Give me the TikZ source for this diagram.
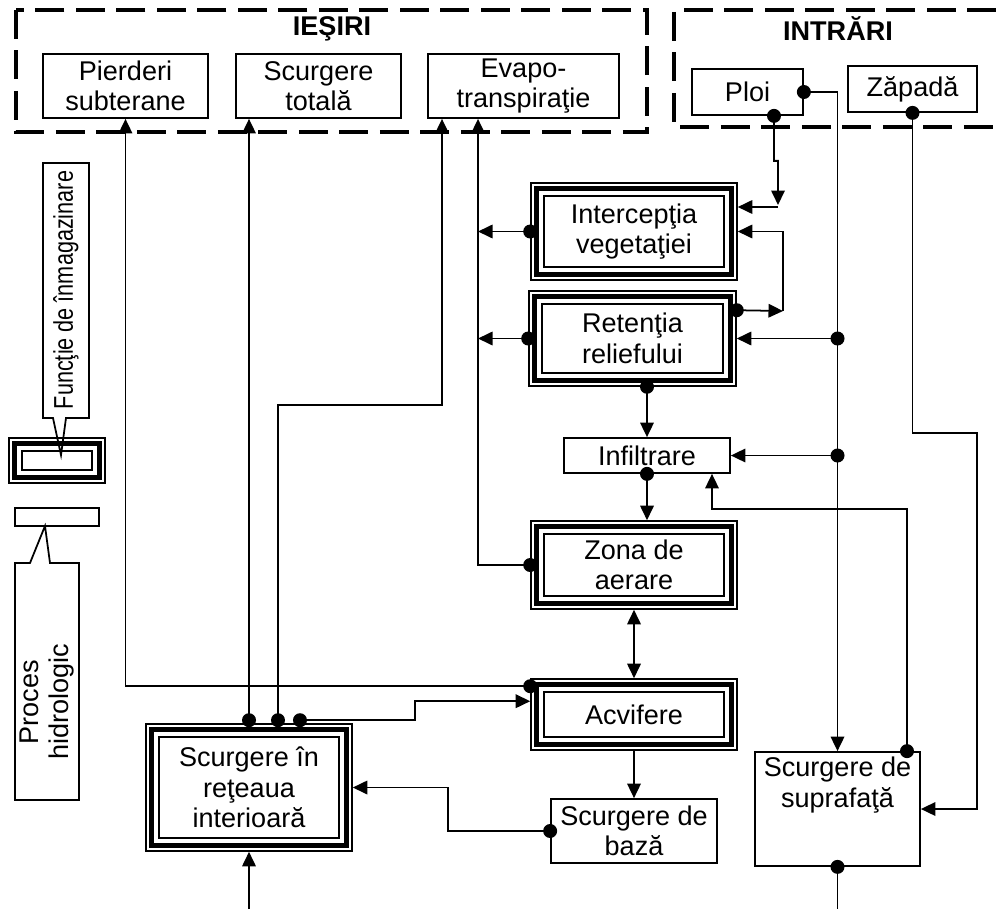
\documentclass[tikz,border=0pt]{standalone}
\usepackage{fontspec}
\usepackage{graphicx}
\setmainfont{Liberation Sans}
\usetikzlibrary{arrows.meta}
\newcommand\diagfont{\fontsize{15.4}{17.4}\selectfont}
\tikzset{
  proc/.style={draw, line width=1pt, align=center, inner sep=0pt},
  store/.style={draw, line width=0.9pt, align=center, inner sep=0pt},
  arr/.style={line width=1pt, -{Triangle[length=0.29cm,width=0.27cm]}},
  arrb/.style={line width=1pt, {Triangle[length=0.29cm,width=0.27cm]}-{Triangle[length=0.29cm,width=0.27cm]}},
  line/.style={line width=1pt},
  group/.style={line width=2.2pt, dash pattern=on 0.58cm off 0.23cm},
}
\begin{document}
\begin{tikzpicture}[x=0.02cm, y=-0.02cm, font=\diagfont]
\useasboundingbox (0,0) rectangle (996,909);
\coordinate (bot) at (0,909);

% iesiri / intrari
\draw[group] (16,10) rectangle (647,132);
\draw[group] (996,10) -- (674,10) -- (674,127) -- (996,127);
\node[font=\diagfont\bfseries] (tout) at (332,29) {IEŞIRI};
\node[font=\diagfont\bfseries] (tin) at (838,29) {INTRĂRI};

\node[proc, minimum width=3.3cm, minimum height=1.28cm] (psub) at (125.5,86) {Pierderi\\subterane};
\node[proc, minimum width=3.3cm, minimum height=1.28cm] (stot) at (318.5,86) {Scurgere\\totală};
\node[proc, minimum width=3.82cm, minimum height=1.28cm] (evap) at (523.5,86) {Evapo-\\transpiraţie};
\node[proc, minimum width=2.22cm, minimum height=0.92cm] (ploi) at (747.5,92) {Ploi};
\node[proc, minimum width=2.58cm, minimum height=0.92cm] (zap) at (912.5,89) {Zăpadă};

% procese si inmagazinari
\node[store, minimum width=4.12cm, minimum height=1.94cm] (icv) at (634,231.5) {Intercepţia\\vegetaţiei};
\node[store, minimum width=4.14cm, minimum height=1.9cm] (rrl) at (632.5,338.5) {Retenţia\\reliefului};
\node[proc, minimum width=3.32cm, minimum height=0.7cm] (inf) at (647,455.5) {Infiltrare};
\node[store, minimum width=4.12cm, minimum height=1.76cm] (zaer) at (634,565) {Zona de\\aerare};
\node[store, minimum width=4.12cm, minimum height=1.42cm] (acv) at (634,714.5) {Acvifere};
\node[proc, minimum width=3.32cm, minimum height=1.28cm] (sbaz) at (634,831) {Scurgere de\\bază};
\node[store, minimum width=4.12cm, minimum height=2.54cm] (sret) at (249,787.5) {Scurgere în\\reţeaua\\interioară};
\node[proc, minimum width=3.3cm, minimum height=2.28cm,
  label={[anchor=north, align=center]north:{Scurgere de\\suprafaţă}}] (ssup) at (837.5,809) {};

% legenda
\node[store, minimum width=1.92cm, minimum height=0.9cm] (lstore) at (57,460.5) {};
\node[proc, minimum width=1.68cm, minimum height=0.36cm] (lproc) at (57,517) {};
\draw[line] (43,163) -- (89,163) -- (89,418) -- (66,418) -- (61,455) -- (53,418) -- (43,418) -- cycle;
\node[rotate=90] (lfct) at (66,290) {\scalebox{0.8}[1]{Funcţie de înmagazinare}};
\draw[line] (15,563) -- (30,563) -- (45,526) -- (50,563) -- (79,563) -- (79,800) -- (15,800) -- cycle;
\node[rotate=90, align=center] (lph) at (47,702) {Proces\\hidrologic};

% rame triple
\foreach \n in {icv,rrl,zaer,acv,sret,lstore}{
  \draw[line width=3pt] ([shift={(0.13cm,0.13cm)}]\n.south west) rectangle ([shift={(-0.13cm,-0.13cm)}]\n.north east);
  \draw[line width=1.1pt] ([shift={(0.27cm,0.27cm)}]\n.south west) rectangle ([shift={(-0.27cm,-0.27cm)}]\n.north east);
}

% puncte de legatura
\coordinate (acvp) at ([yshift=-0.16cm]acv.north west);
\coordinate (acvi) at ([yshift=-0.46cm]acv.north west);
\coordinate (sr1) at ([yshift=0.06cm]sret.north);
\coordinate (sr2) at ([shift={(0.58cm,0.06cm)}]sret.north);
\coordinate (sr3) at ([shift={(1.02cm,0.06cm)}]sret.north);
\coordinate (ev1) at (442,405);
\coordinate (evx) at ([xshift=-0.91cm]evap.south);
\coordinate (plb) at ([xshift=0.53cm]ploi.south);
\coordinate (pj) at (778,207);
\coordinate (rrd) at ([yshift=-0.4cm]rrl.north east);
\coordinate (rj) at (783,311);
\coordinate (rrs) at ([xshift=0.29cm]rrl.south);
\coordinate (j1) at (ssup.north |- rrl.east);
\coordinate (j2) at (ssup.north |- inf.east);
\coordinate (ib) at ([xshift=1.3cm]inf.south);
\coordinate (ssd) at ([xshift=1.39cm]ssup.north);

% iesiri
\draw[arr] (acvp) -| (psub.south);
\draw[arr] (sr1) -- (sr1 |- stot.south);
\draw[arr] (sr2) |- (ev1) -- (ev1 |- evap.south);
\draw[arr] (zaer.west) -| (evx);
\draw[arr] (icv.west) -- (icv.west -| evx);
\draw[arr] (rrl.west) -- (rrl.west -| evx);

% intrari
\draw[arr] (plb) -- ++(0,45) -- ++(4,0) -- ([yshift=0.04cm]pj);
\draw[arr] (pj) -- (pj -| icv.east);
\draw[arr] (rrd) -- (rj);
\draw[arr] (rj) |- (icv.east);
\draw[arr] (ploi.east) -| (ssup.north);
\draw[arr] (j1) -- (rrl.east);
\draw[arr] (j2) -- (inf.east);
\draw[arr] (zap.south) -- ++(0,320) -- ++(64.5,0) |- (ssup.east);
\draw[arr] (ssd) |- ([yshift=-0.7cm]ib) -- (ib);

% fluxuri interne
\draw[arr] (rrs) -- (rrs |- inf.north);
\draw[arr] (inf.south) -- (inf.south |- zaer.north);
\draw[arrb] (zaer.south) -- (acv.north);
\draw[arr] (acv.south) -- (acv.south |- sbaz.north);
\draw[arr] (sbaz.west) -- ++(-102,0) |- (sret.east);
\draw[arr] (sr3) -- ++(115,0) |- (acvi);
\draw[arr] (sret.south |- bot) -- (sret.south);
\draw[line] (ssup.south) -- (ssup.south |- bot);

\foreach \p in {acvp,sr1,sr2,sr3,zaer.west,icv.west,rrl.west,plb,ploi.east,rrd,j1,j2,rrs,inf.south,sbaz.west,ssd,zap.south,ssup.south}
  \fill (\p) circle (0.14cm);
\end{tikzpicture}
\end{document}
